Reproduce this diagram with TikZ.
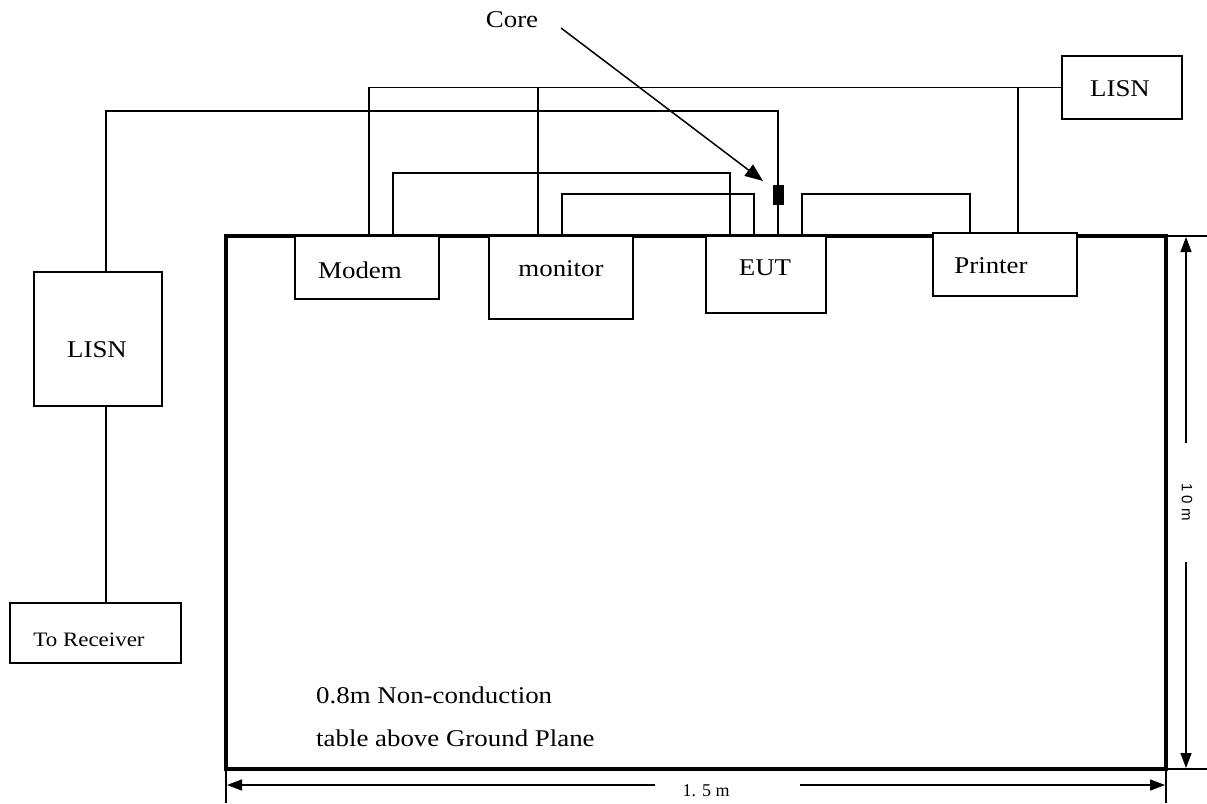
\documentclass[tikz,border=0pt]{standalone}
\usepackage{fontspec}
\setmainfont{Liberation Serif}[FakeStretch=1.12]
\newfontfamily\dimserif{Liberation Serif}
\newfontfamily\dimsans{Liberation Sans}
\usetikzlibrary{arrows.meta,calc}
\begin{document}
\begin{tikzpicture}[x=1pt,y=-1pt,
  box/.style={draw,line width=1.5pt,fill=white,inner sep=0pt,outer sep=0pt,anchor=north west},
  wire/.style={line width=1.5pt},
  lbl/.style={font=\fontsize{24}{28}\selectfont,inner sep=0pt},
  dimarrow/.style={-{Triangle[length=15pt,width=11pt]},line width=1.5pt},
  corearrow/.style={-{Triangle[length=18pt,width=14pt]},line width=1.5pt}]
\useasboundingbox (0,0) rectangle (1207,803);

% table
\coordinate (tnw) at (226,236);
\coordinate (tne) at (1166,236);
\coordinate (tsw) at (226,769);
\coordinate (tse) at (1166,769);
\draw[line width=3.2pt] (tnw) rectangle (tse);

% boxes
\node[box,minimum width=144pt,minimum height=63pt] (modem) at (295,236) {};
\node[box,minimum width=144pt,minimum height=83pt] (monitor) at (489,236) {};
\node[box,minimum width=120pt,minimum height=77pt] (eut) at (706,236) {};
\node[box,minimum width=144pt,minimum height=63pt] (printer) at (933,233) {};
\node[box,minimum width=120pt,minimum height=63pt] (lisnR) at (1062,56) {};
\node[box,minimum width=128pt,minimum height=134pt] (lisnL) at (34,272) {};
\node[box,minimum width=171pt,minimum height=60pt] (recv) at (10,603) {};
\node[fill=black,inner sep=0pt,outer sep=0pt,minimum width=11pt,minimum height=20pt,anchor=north] (core) at (778,185) {};

% texts
\node[lbl] (modemtxt) at (360,270) {Modem};
\node[lbl] (monitortxt) at (561,269) {monitor};
\node[lbl] (euttxt) at (765,268) {EUT};
\node[lbl] (printertxt) at (991,266) {Printer};
\node[lbl] (lisnRtxt) at (1120,89) {LISN};
\node[lbl] (lisnLtxt) at (97,350) {LISN};
\node[lbl,font=\fontsize{20.5}{24}\selectfont] (recvtxt) at (89,640) {To Receiver};
\node[lbl] (coretxt) at (512,20) {Core};
\node[lbl,anchor=west] (tabletxt1) at (316,695) {0.8m Non-conduction};
\node[lbl,anchor=west] (tabletxt2) at (316,738) {table above Ground Plane};

% wire x positions
\coordinate (t1) at (369,88);
\coordinate (t2) at (538,88);
\coordinate (t3) at (1018,88);
\coordinate (x2) at (106,111);
\coordinate (xc) at (778,111);
\coordinate (m3a) at (393,173);
\coordinate (m3b) at (730,173);
\coordinate (m4a) at (562,194);
\coordinate (m4b) at (754,194);
\coordinate (m5a) at (802,194);
\coordinate (m5b) at (970,194);

% wires
\draw[wire] (modem.north -| t1) |- (lisnR.west);
\draw[wire] (monitor.north -| t2) -- (t2 |- lisnR.west);
\draw[wire] (printer.north -| t3) -- (t3 |- lisnR.west);
\draw[wire] (lisnL.north -| x2) |- (xc) -- (core.north);
\draw[wire] (core.south) -- (eut.north -| core.south);
\draw[wire] (lisnL.south -| x2) -- (recv.north -| x2);
\draw[wire] (modem.north -| m3a) -- (m3a) -- (m3b) -- (eut.north -| m3b);
\draw[wire] (monitor.north -| m4a) -- (m4a) -- (m4b) -- (eut.north -| m4b);
\draw[wire] (eut.north -| m5a) -- (m5a) -- (m5b) -- (printer.north -| m5b);

% core arrow
\coordinate (coretail) at (561,28);
\coordinate (corehead) at (763,181);
\draw[corearrow] (coretail) -- (corehead);

% dimensions
\draw[line width=1.5pt] (tne) -- ++(41,0);
\draw[line width=1.5pt] (tse) -- ++(41,0);
\draw[line width=1.5pt] (tsw) -- ++(0,34);
\draw[line width=1.5pt] (tse) -- ++(0,34);
\coordinate (vt) at (1186,237);
\coordinate (vb) at (1186,768);
\coordinate (vg1) at (1186,443);
\coordinate (vg2) at (1186,562);
\node[inner sep=0pt,rotate=-90,font=\dimsans\fontsize{15}{17}\selectfont] (vdim) at (1187,502) {1 0 m};
\draw[dimarrow] (vg1) -- (vt);
\draw[dimarrow] (vg2) -- (vb);
\coordinate (hl) at (227,785);
\coordinate (hr) at (1165,785);
\coordinate (hg1) at (655,785);
\coordinate (hg2) at (800,785);
\node[inner sep=0pt,font=\dimserif\fontsize{18}{20}\selectfont] (hdim) at (706,791) {1. 5 m};
\draw[dimarrow] (hg1) -- (hl);
\draw[dimarrow] (hg2) -- (hr);
\end{tikzpicture}
\end{document}
